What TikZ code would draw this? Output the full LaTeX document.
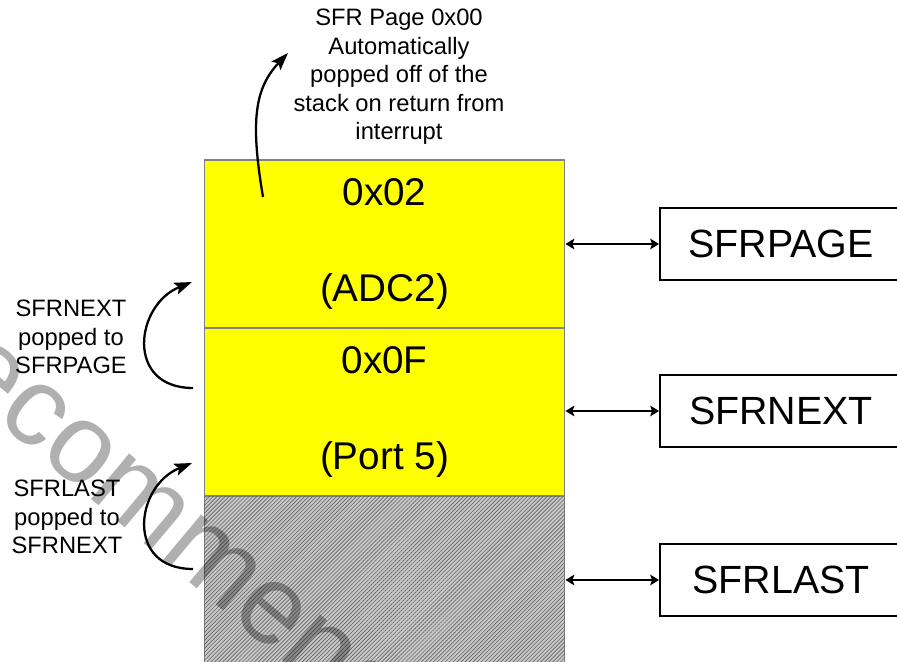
\documentclass[tikz,border=0pt]{standalone}
\usepackage{fontspec}
\setmainfont{Liberation Sans}
\usetikzlibrary{positioning, arrows.meta, patterns.meta}
\definecolor{stackYellow}{HTML}{FFFF00}
\definecolor{borderGray}{HTML}{808080}
\definecolor{hatchGray}{HTML}{C8C8C8}

\begin{document}
\begin{tikzpicture}[
    x=0.02cm, y=-0.02cm,
    smallText/.style={align=center, inner sep=0pt, font=\fontsize{13.5}{16.2}\selectfont},
    cell/.style={
        draw=borderGray, line width=0.6pt, minimum width=7.22cm, minimum height=3.36cm,
        inner sep=0pt, align=center, font=\fontsize{22}{54.4}\selectfont
    },
    pageCell/.style={cell, fill=stackYellow},
    usedCell/.style={cell, fill=hatchGray,
        postaction={pattern={Lines[angle=45, distance=1.6pt, line width=0.35pt]}, pattern color=black!62}},
    regBox/.style={draw, line width=1.1pt, minimum width=4.84cm, minimum height=1.44cm,
        inner sep=0pt, font=\fontsize{22.4}{26}\selectfont},
    dblArrow/.style={{Stealth[length=5pt, width=6pt, inset=1pt]}-{Stealth[length=5pt, width=6pt, inset=1pt]}, line width=1.1pt},
    popArrow/.style={-{Stealth[length=10pt, width=7pt, inset=2pt]}, line width=1.3pt}
]

\useasboundingbox (0, 0) rectangle (897, 662);
\clip (0, 0) rectangle (897, 662);

% stack of pages
\node[pageCell] (adcCell) at (384.5, 244) {0x02\\(ADC2)};
\node[pageCell] (portCell) at (384.5, 412) {0x0F\\(Port 5)};
\node[usedCell] (emptyCell) at (384.5, 580) {};

% registers
\node[regBox] (pageReg) at (781, 244) {SFRPAGE};
\node[regBox] (nextReg) at (781, 411) {SFRNEXT};
\node[regBox] (lastReg) at (781, 580) {SFRLAST};

\draw[dblArrow] (pageReg.west -| adcCell.east) -- (pageReg.west);
\draw[dblArrow] (nextReg.west -| portCell.east) -- (nextReg.west);
\draw[dblArrow] (lastReg.west -| emptyCell.east) -- (lastReg.west);

% labels
\node[smallText] (autoPop) at (399, 77) {SFR Page 0x00\\Automatically\\popped off of the\\stack on return from\\interrupt};
\node[smallText] (nextPop) at (71, 337) {SFRNEXT\\popped to\\SFRPAGE};
\node[smallText] (lastPop) at (67, 517) {SFRLAST\\popped to\\SFRNEXT};

% pop arrows
\coordinate (popStart) at (263, 197);
\coordinate (popEnd) at (288, 53);
\draw[popArrow] (popStart) .. controls (250, 120) and (255, 88) .. (popEnd);

\coordinate (nextStart) at (193, 388);
\coordinate (nextEnd) at (192, 282);
\draw[popArrow] (nextStart) .. controls (125, 388) and (135, 305) .. (nextEnd);

\coordinate (lastStart) at (193, 569);
\coordinate (lastEnd) at (192, 463);
\draw[popArrow] (lastStart) .. controls (125, 569) and (135, 486) .. (lastEnd);

% watermark
\node[rotate=-40, anchor=base west, inner sep=0pt, text=black, text opacity=0.31,
    font=\fontsize{64}{64}\selectfont] (watermark) at (-116, 326) {Recommended};

\end{tikzpicture}
\end{document}
